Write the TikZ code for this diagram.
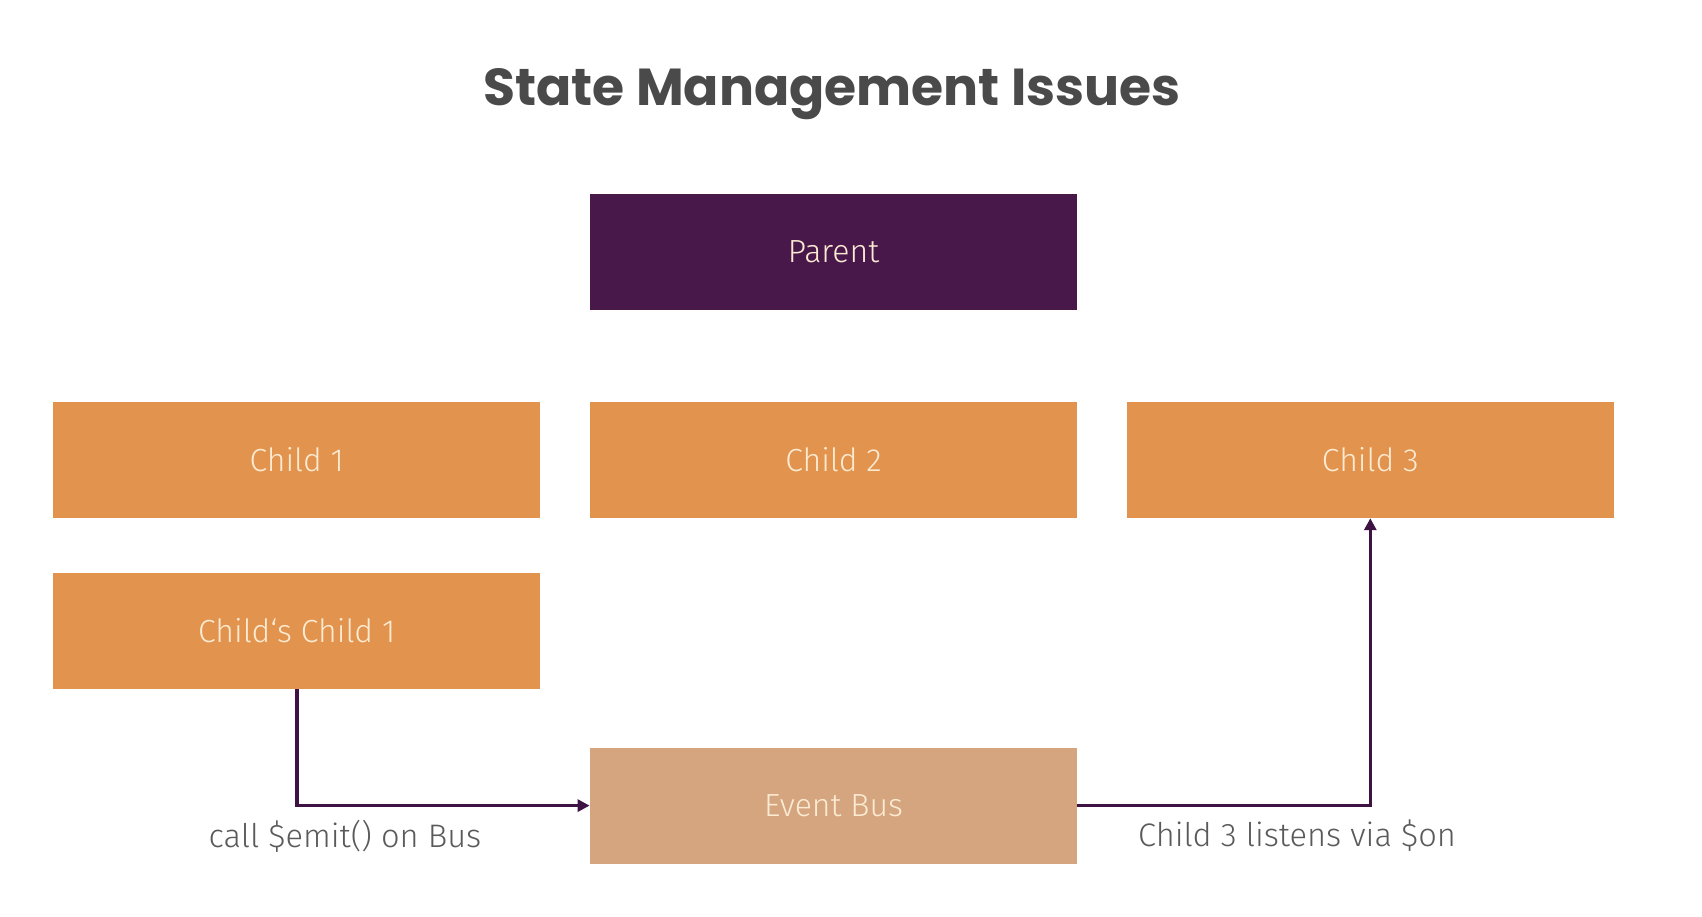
\documentclass[tikz,border=0pt]{standalone}
\usepackage{fontspec}
\IfFontExistsTF{Fira Sans Light}{\setmainfont{Fira Sans Light}}{\setmainfont{Fira Sans}}
\newfontfamily\titlefont{Poppins}
\usetikzlibrary{positioning,arrows.meta}

\definecolor{parentpurple}{HTML}{48184A}
\definecolor{childorange}{HTML}{E2934D}
\definecolor{bustan}{HTML}{D4A57E}
\definecolor{boxtext}{HTML}{FBEBD3}
\definecolor{linepurple}{HTML}{3E1242}
\definecolor{titlegray}{HTML}{4A4A4A}
\definecolor{notegray}{HTML}{5A5A5A}

\begin{document}
\begin{tikzpicture}[
    x=0.5pt, y=-0.5pt,
    node distance=45.5pt,
    box/.style={
        rectangle,
        fill=childorange,
        text=boxtext,
        minimum width=243.5pt,
        minimum height=58pt,
        inner sep=0pt,
        font=\fontsize{16}{16}\selectfont
    },
    note/.style={text=notegray, font=\fontsize{16.3}{16.3}\selectfont},
    arrow/.style={-{Triangle[length=6pt,width=6pt]}, line width=1.8pt, draw=linepurple}
]
\useasboundingbox (0,0) rectangle (1702,916);

\node[text=titlegray, font=\titlefont\bfseries\fontsize{26}{26}\selectfont] (title) at (832,94)
{State Management Issues};

\node[box, fill=parentpurple] (parent) at (833.5,252) {Parent};

\node[box] (child2) [below=of parent] {Child 2};
\node[box] (child1) [left=24.5pt of child2] {Child 1};
\node[box] (child3) [right=24.5pt of child2] {Child 3};

\node[box] (grandchild) [below=27pt of child1] {Child‘s Child 1};

\node[box, fill=bustan] (bus) [below=114.5pt of child2] {Event Bus};

\draw[arrow] (grandchild.south) |- (bus.west);
\draw[arrow] (bus.east) -| (child3.south);

\node[note] (emitnote) at (345,836) {call \$emit() on Bus};
\node[note] (onnote) at (1297,836) {Child 3 listens via \$on};

\end{tikzpicture}
\end{document}
